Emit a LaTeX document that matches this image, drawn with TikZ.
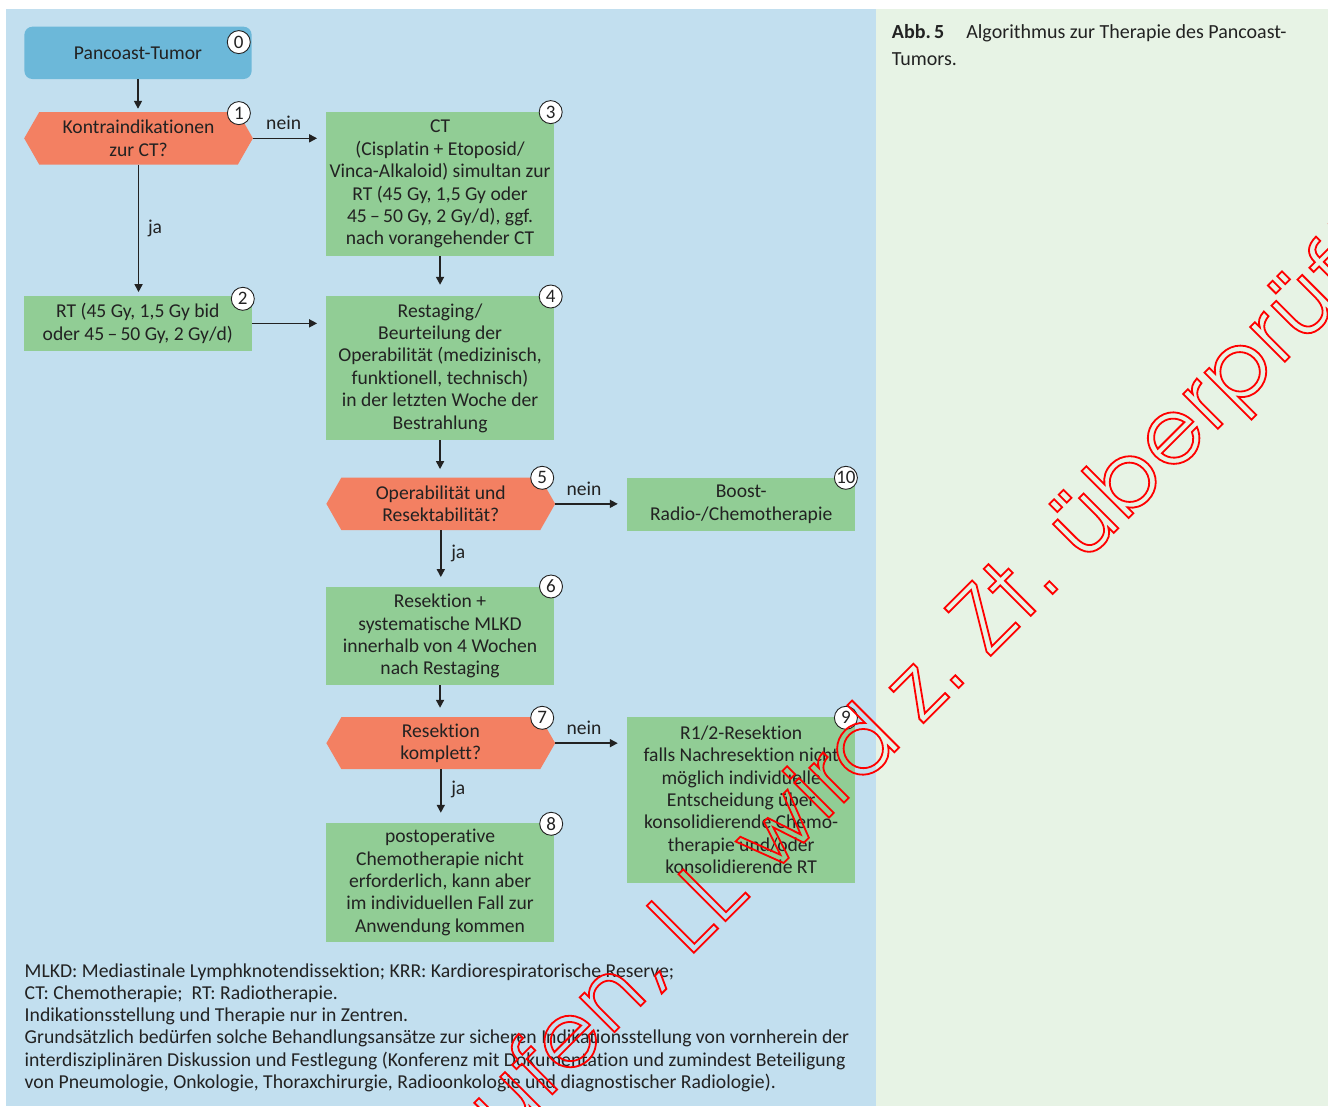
\documentclass[tikz,border=0pt]{standalone}
\usepackage{fontspec}
\setmainfont{Carlito}[Ligatures=NoCommon]
\newfontfamily\wmfont{texgyreadventor-regular.otf}[LetterSpace=3.5]
\usetikzlibrary{arrows.meta,calc}
\definecolor{panelblue}{HTML}{C2DFEF}
\definecolor{panelgreen}{HTML}{E7F3E5}
\definecolor{startblue}{HTML}{6CB8D9}
\definecolor{decorange}{HTML}{F38062}
\definecolor{boxgreen}{HTML}{91CD95}
\definecolor{txt}{HTML}{222222}
\pgfdeclarelayer{bg}
\pgfsetlayers{bg,main}
\newcommand\outlinetext[1]{\special{pdf:literal direct 1 Tr 1.8 w}#1\special{pdf:literal direct 0 Tr}}
\begin{document}
\begin{tikzpicture}[x=1pt,y=-1pt,
  every node/.style={font=\fontsize{19.6}{22.4}\selectfont, text=txt},
  gbox/.style={fill=boxgreen, inner sep=0pt, align=center},
  deci/.style={inner sep=0pt, align=center},
  num/.style={circle, draw=txt, fill=white, line width=0.9pt, minimum size=23pt, inner sep=0pt, font=\fontsize{19}{19}\selectfont},
  arr/.style={line width=1.6pt, draw=txt, -{Triangle[length=8pt,width=8pt]}},
  lab/.style={font=\fontsize{19.6}{19.6}\selectfont, inner sep=0pt}
]
\useasboundingbox (0,0) rectangle (1328,1106);
\begin{pgfonlayer}{bg}
\fill[white] (0,0) rectangle (1328,1106);
\fill[panelblue] (6.3,9) rectangle (876,1106);
\fill[panelgreen] (876,9) rectangle (1328,1106);
\end{pgfonlayer}

% nodes
\node[gbox, fill=startblue, rounded corners=8pt, minimum width=227.2pt, minimum height=52.3pt] (n0) at (138,52.85) {Pancoast-Tumor};
\node[deci, minimum width=228.3pt, minimum height=52pt] (n1) at (138.55,138.3) {Kontraindikationen\\zur CT?};
\node[gbox, minimum width=227.5pt, minimum height=143.7pt] (n3) at (440.05,184.15) {CT\\(Cisplatin + Etoposid/\\Vinca-Alkaloid) simultan zur\\RT (45 Gy, 1,5 Gy oder\\45\,–\,50 Gy, 2 Gy/d), ggf.\\nach vorangehender CT};
\node[gbox, minimum width=227.6pt, minimum height=54.7pt] (n2) at (137.8,323.35) {RT (45 Gy, 1,5 Gy bid\\oder 45\,–\,50 Gy, 2 Gy/d)};
\node[gbox, minimum width=227.5pt, minimum height=144pt] (n4) at (440.05,368) {Restaging/\\Beurteilung der\\Operabilität (medizinisch,\\funktionell, technisch)\\in der letzten Woche der\\Bestrahlung};
\node[deci, minimum width=228.4pt, minimum height=52.3pt] (n5) at (440.8,503.85) {Operabilität und\\Resektabilität?};
\node[gbox, minimum width=227.6pt, minimum height=52.7pt] (n10) at (741.2,504.35) {Boost-\\Radio-/Chemotherapie};
\node[gbox, minimum width=227.5pt, minimum height=97.7pt] (n6) at (440.05,636.15) {Resektion +\\systematische MLKD\\innerhalb von 4 Wochen\\nach Restaging};
\node[deci, minimum width=228.4pt, minimum height=51.7pt] (n7) at (440.8,743.15) {Resektion\\komplett?};
\node[gbox, minimum width=227.6pt, minimum height=165.7pt] (n9) at (741.2,799.85) {R1/2-Resektion\\falls Nachresektion nicht\\möglich individuelle\\Entscheidung über\\konsolidierende Chemo-\\therapie und/oder\\konsolidierende RT};
\node[gbox, minimum width=227.5pt, minimum height=119pt] (n8) at (440.05,882.5) {postoperative\\Chemotherapie nicht\\erforderlich, kann aber\\im individuellen Fall zur\\Anwendung kommen};

% decision shapes
\begin{pgfonlayer}{bg}
\foreach \n in {n1,n5,n7}
  \fill[decorange] (\n.west) -- ([xshift=15pt]\n.north west) -- ([xshift=-15pt]\n.north east) -- (\n.east) -- ([xshift=-15pt]\n.south east) -- ([xshift=15pt]\n.south west) -- cycle;
\end{pgfonlayer}

% connectors
\draw[arr, shorten >=3.3pt] (n0.south) -- (n0.south |- n1.north);
\draw[arr, shorten >=9pt] (n1.east) -- node[lab, pos=0.42, anchor=base, yshift=8.5pt] {nein} (n1.east -| n3.west);
\draw[arr, shorten >=3.7pt] (n1.south) -- node[lab, pos=0.49, xshift=16.5pt] {ja} (n1.south |- n2.north);
\draw[arr, shorten >=11pt] (n3.south) -- (n3.south |- n4.north);
\draw[arr, shorten >=9pt] (n2.east) -- (n2.east -| n4.west);
\draw[arr, shorten >=8.4pt] (n4.south) -- (n4.south |- n5.north);
\draw[arr, shorten >=9.4pt] (n5.east) -- node[lab, pos=0.40, anchor=base, yshift=8.5pt] {nein} (n5.east -| n10.west);
\draw[arr, shorten >=10pt] (n5.south) -- node[lab, pos=0.4, xshift=17.5pt] {ja} (n5.south |- n6.north);
\draw[arr, shorten >=9.3pt] (n6.south) -- (n6.south |- n7.north);
\draw[arr, shorten >=9.4pt] (n7.east) -- node[lab, pos=0.40, anchor=base, yshift=8.5pt] {nein} (n7.east -| n9.west);
\draw[arr, shorten >=10pt] (n7.south) -- node[lab, pos=0.37, xshift=17.5pt] {ja} (n7.south |- n8.north);

% number circles
\node[num] (c0) at ($(n0.north east)+(-13,15.6)$) {0};
\node[num] (c1) at ($(n1.north east)+(-14,1)$) {1};
\node[num] (c2) at ($(n2.north east)+(-9,3)$) {2};
\node[num] (c3) at ($(n3.north east)+(-3.3,0)$) {3};
\node[num] (c4) at ($(n4.north east)+(-3.3,0.7)$) {4};
\node[num] (c5) at ($(n5.north east)+(-13,0.3)$) {5};
\node[num] (c6) at ($(n6.north east)+(-3,-0.6)$) {6};
\node[num] (c7) at ($(n7.north east)+(-13,0.7)$) {7};
\node[num] (c8) at ($(n8.north east)+(-2.8,1)$) {8};
\node[num] (c9) at ($(n9.north east)+(-9.3,1)$) {9};
\node[num] (c10) at ($(n10.north east)+(-9.3,0)$) {10};

% footnote
\node[inner sep=0pt, align=left, anchor=north west, font=\fontsize{19.7}{22.2}\selectfont] (foot) at (24.5,963.5) {MLKD: Mediastinale Lymphknotendissektion; KRR: Kardiorespiratorische Reserve;\\CT: Chemotherapie;\ \ RT: Radiotherapie.\\Indikationsstellung und Therapie nur in Zentren.\\Grundsätzlich bedürfen solche Behandlungsansätze zur sicheren Indikationsstellung von vornherein der\\interdisziplinären Diskussion und Festlegung (Konferenz mit Dokumentation und zumindest Beteiligung\\von Pneumologie, Onkologie, Thoraxchirurgie, Radioonkologie und diagnostischer Radiologie).};

% caption
\node[inner sep=0pt, align=left, anchor=north west, font=\fontsize{20}{27}\selectfont] (cap) at (891.7,24.5) {\textbf{Abb.\,5}\hspace{22pt}Algorithmus zur Therapie des Pancoast-\\Tumors.};

% watermark
\begin{scope}
\clip (0,0) rectangle (1328,1106);
\node[rotate=45, anchor=base west, inner sep=0pt, text=red, font=\wmfont\fontsize{90}{90}\selectfont] (wm) at (689,957.7) {\outlinetext{\llap{Abgelaufen, }LL wird z.\ Zt.\ überprüft}};
\end{scope}
\end{tikzpicture}
\end{document}
